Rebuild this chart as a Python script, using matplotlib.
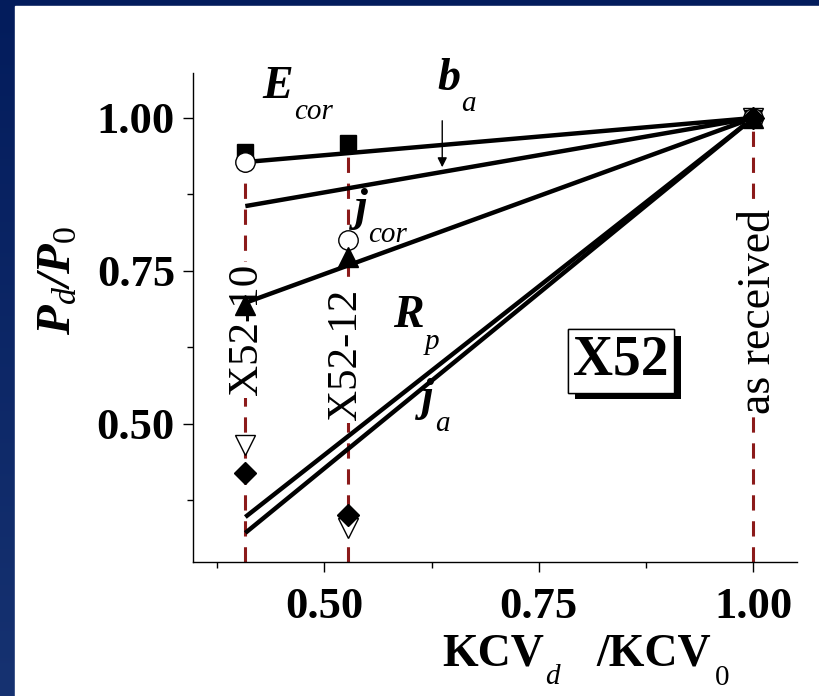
import numpy as np
import matplotlib.pyplot as plt
from matplotlib.patches import Rectangle
from matplotlib.colors import LinearSegmentedColormap
from matplotlib.ticker import MultipleLocator
import matplotlib.patheffects as pe

plt.rcParams['font.family'] = ['Liberation Serif', 'DejaVu Serif']
plt.rcParams['mathtext.fontset'] = 'custom'
plt.rcParams['mathtext.rm'] = 'Liberation Serif'
plt.rcParams['mathtext.it'] = 'Liberation Serif:italic'
plt.rcParams['mathtext.bf'] = 'Liberation Serif:bold'
plt.rcParams['mathtext.bfit'] = 'Liberation Serif:italic:bold'

# specimens, KCV_d / KCV_0
kcv = [0.408, 0.528, 1.0]
specimens = ['X52-10', 'X52-12', 'as received']

# relative electrochemical parameters P_d / P_0
e_cor = [0.944, 0.959, 1.0]    # filled squares
b_a = [0.928, 0.800, 1.0]      # open circles
j_cor = [0.695, 0.773, 1.0]    # filled triangles
r_p = [0.466, 0.330, 1.0]      # open down triangles
j_a = [0.420, 0.351, 1.0]      # filled diamonds

# straight trend lines, values at first and last KCV
trend_x = [0.408, 1.0]
trend_start = [0.928, 0.856, 0.698, 0.348, 0.322]
trend_end = [1.0, 1.0, 1.0, 1.0, 1.0]

# top of the dashed specimen markers
drop_top = [0.93, 0.955, 1.0]

W, H = 819, 696
fig = plt.figure(figsize=(W / 100, H / 100), dpi=100)

# blue frame + white panel
bg = fig.add_axes([0, 0, 1, 1], zorder=-10)
cmap = LinearSegmentedColormap.from_list('frame', ['#163271', '#031c5c'])
bg.imshow(np.linspace(0, 1, 256).reshape(-1, 1), extent=[0, 1, 0, 1],
          aspect='auto', cmap=cmap, origin='lower')
bg.add_patch(Rectangle((15 / W, 0), 1, (H - 6) / H, color='white'))
bg.set_xlim(0, 1)
bg.set_ylim(0, 1)
bg.axis('off')

ax = fig.add_axes([193 / W, (H - 562) / H, (797 - 193) / W, (562 - 73) / H])
ax.patch.set_alpha(0)
ax.set_xlim(0.347, 1.051)
ax.set_ylim(0.2745, 1.0735)

ybot = ax.get_ylim()[0]
for x, top in zip(kcv, drop_top):
    ax.plot([x, x], [ybot, top], color='#8b1a1a', lw=2.2,
            dashes=(5, 3.5), zorder=1)

for y0, y1 in zip(trend_start, trend_end):
    ax.plot(trend_x, [y0, y1], color='black', lw=3.2,
            solid_capstyle='butt', zorder=3)

ax.plot(kcv, r_p, 'v', ms=15, mfc='white', mec='black', mew=1,
        ls='none', zorder=3.5)
ax.plot(kcv, e_cor, 's', ms=12, color='black', ls='none', zorder=4)
ax.plot(kcv, b_a, 'o', ms=14, mfc='white', mec='black', mew=1,
        ls='none', zorder=5)
ax.plot(kcv, j_cor, '^', ms=15, color='black', ls='none', zorder=6)
ax.plot(kcv, j_a, 'D', ms=11, color='black', ls='none', zorder=6)

# rotated specimen names
name_pos = [(0.410, 0.654), (0.5245, 0.613), (1.006, 0.683)]
name_size = [31, 31, 33]
for name, (x, y), fs in zip(specimens, name_pos, name_size):
    ax.text(x, y, name, rotation=90, ha='center', va='center',
            fontsize=fs, zorder=2,
            bbox=dict(boxstyle='square,pad=0.05', fc='white', ec='none'))


def param_label(x, y, main, sub):
    t = ax.text(x, y, main, ha='left', va='baseline', fontsize=33,
                fontweight='bold', style='italic', zorder=7)
    ax.annotate(sub, xy=(1, y), xycoords=(t, 'data'), xytext=(0.5, -1),
                textcoords='offset points', ha='left', va='top',
                fontsize=21, style='italic', zorder=7)


param_label(0.428, 1.033, 'E', 'cor')
param_label(0.632, 1.046, 'b', 'a')
param_label(0.536, 0.833, 'j', 'cor')
param_label(0.580, 0.658, 'R', 'p')
param_label(0.613, 0.523, 'j', 'a')
ax.annotate('', xy=(0.6375, 0.915), xytext=(0.6375, 1.0),
            arrowprops=dict(arrowstyle='-|>', color='black', lw=1,
                            mutation_scale=14))

box = ax.text(0.846, 0.603, 'X52', ha='center', va='center',
              fontsize=40, fontweight='bold', zorder=6,
              bbox=dict(boxstyle='square,pad=0.1', fc='white',
                        ec='black', lw=1))
box.get_bbox_patch().set_path_effects(
    [pe.withSimplePatchShadow(offset=(5, -5), shadow_rgbFace='black',
                              alpha=1), pe.Normal()])

for s in ['top', 'right']:
    ax.spines[s].set_visible(False)
for s in ['left', 'bottom']:
    ax.spines[s].set_linewidth(1.0)
ax.xaxis.set_major_locator(MultipleLocator(0.25))
ax.xaxis.set_minor_locator(MultipleLocator(0.125))
ax.yaxis.set_major_locator(MultipleLocator(0.25))
ax.yaxis.set_minor_locator(MultipleLocator(0.125))
ax.tick_params(which='major', length=7, width=1, labelsize=32)
ax.tick_params(which='minor', length=4, width=1)
ax.tick_params(axis='x', which='major', pad=11)
ax.tick_params(axis='y', which='major', pad=6)
ax.xaxis.set_major_formatter(plt.FuncFormatter(lambda v, p: f'{v:.2f}'))
ax.yaxis.set_major_formatter(plt.FuncFormatter(lambda v, p: f'{v:.2f}'))
for t in ax.get_xticklabels() + ax.get_yticklabels():
    t.set_fontweight('bold')

fig.text(58 / W, 1 - 280 / H, r'$\mathbfit{P}_{\mathit{d}}\mathbfit{/P}_{\mathit{0}}$',
         rotation=90, ha='center', va='center', fontsize=35)

# x axis title built piece by piece so the subscripts sit low
yb = 1 - 665 / H
k1 = fig.text(442 / W, yb, 'KCV', ha='left', va='baseline',
              fontsize=33, fontweight='bold')
k2 = plt.annotate('d', xy=(1, yb), xycoords=(k1, 'figure fraction'),
                  xytext=(1, 1), textcoords='offset points',
                  ha='left', va='top', fontsize=21, style='italic')
k3 = plt.annotate('/KCV', xy=(1, yb), xycoords=(k2, 'figure fraction'),
                  xytext=(26, 0), textcoords='offset points',
                  ha='left', va='baseline', fontsize=33, fontweight='bold')
plt.annotate('0', xy=(1, yb), xycoords=(k3, 'figure fraction'),
             xytext=(3, 0), textcoords='offset points',
             ha='left', va='top', fontsize=21)

fig.savefig('out.png', dpi=100)
